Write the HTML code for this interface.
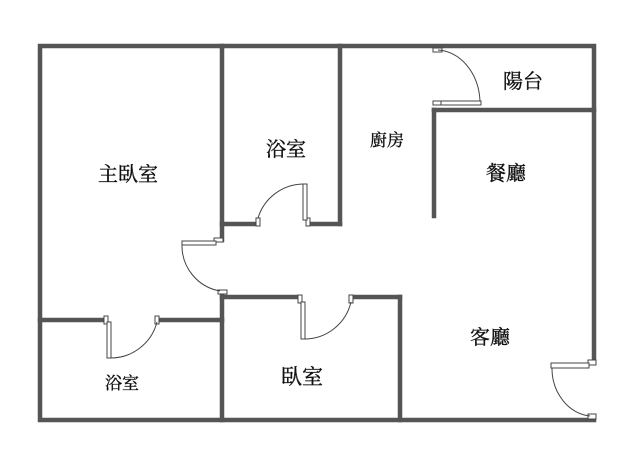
<!DOCTYPE html>
<html><head><meta charset="utf-8"><style>
html,body{margin:0;padding:0;background:#fff;}
svg{display:block;}
text{font-family:"Liberation Serif","Noto Serif CJK SC","Noto Sans CJK TC",serif;fill:#111;stroke:#111;stroke-width:0.35;}
</style></head><body>
<svg width="640" height="461" viewBox="0 0 640 461" xmlns="http://www.w3.org/2000/svg">
<g stroke="#555" stroke-width="4.5" fill="none" stroke-linecap="square">
<polyline points="594,362 594,46 40,46 40,420 594,420 594,416"/>
<line x1="222" y1="46" x2="222" y2="240"/>
<line x1="222" y1="293" x2="222" y2="420"/>
<line x1="340" y1="46" x2="340" y2="224"/>
<line x1="222" y1="224" x2="256" y2="224"/>
<line x1="310" y1="224" x2="340" y2="224"/>
<line x1="40" y1="320" x2="106" y2="320"/>
<line x1="158" y1="320" x2="222" y2="320"/>
<line x1="222" y1="297" x2="298" y2="297"/>
<line x1="353" y1="297" x2="400" y2="297"/>
<line x1="400" y1="297" x2="400" y2="420"/>
<line x1="434" y1="110" x2="594" y2="110"/>
<line x1="434" y1="110" x2="434" y2="216"/>
</g>
<g stroke="#444" stroke-width="1" fill="#fff">
<rect x="256" y="218" width="4" height="8"/>
<rect x="306" y="218" width="4" height="8"/>
<rect x="303" y="184" width="4" height="36"/>
<path d="M258,218 A48,48 0 0 1 303,184" fill="none"/>
<rect x="214" y="238" width="9" height="4"/>
<rect x="182" y="241" width="34" height="4"/>
<rect x="218" y="290" width="9" height="4"/>
<path d="M182,245 A46,46 0 0 0 220,291" fill="none"/>
<rect x="104" y="316" width="4" height="8"/>
<rect x="155" y="316" width="4" height="8"/>
<rect x="107" y="322" width="4" height="36"/>
<path d="M110,358 A48,48 0 0 0 157,322" fill="none"/>
<rect x="298" y="295" width="4" height="8"/>
<rect x="349" y="295" width="4" height="8"/>
<rect x="301" y="302" width="4" height="37"/>
<path d="M304,339 A48,48 0 0 0 351,302" fill="none"/>
<rect x="433" y="48" width="9" height="4"/>
<rect x="433" y="101" width="9" height="4"/>
<rect x="441" y="101" width="40" height="4"/>
<path d="M438,50 A44,54 0 0 1 480,101" fill="none"/>
<rect x="588" y="360" width="8" height="5"/>
<rect x="551" y="363" width="38" height="5"/>
<rect x="588" y="414" width="8" height="5"/>
<path d="M552,368 A42,48 0 0 0 590,416" fill="none"/>
</g>
<text x="128" y="181" font-size="20" text-anchor="middle">主臥室</text>
<text x="286" y="156" font-size="20" text-anchor="middle">浴室</text>
<text x="387" y="146" font-size="17" text-anchor="middle">廚房</text>
<text x="523" y="88" font-size="20" text-anchor="middle">陽台</text>
<text x="506" y="180" font-size="20" text-anchor="middle">餐廳</text>
<text x="490" y="344" font-size="20" text-anchor="middle">客廳</text>
<text x="122" y="389" font-size="17" text-anchor="middle">浴室</text>
<text x="302" y="384" font-size="21" text-anchor="middle">臥室</text>
</svg>
</body></html>
